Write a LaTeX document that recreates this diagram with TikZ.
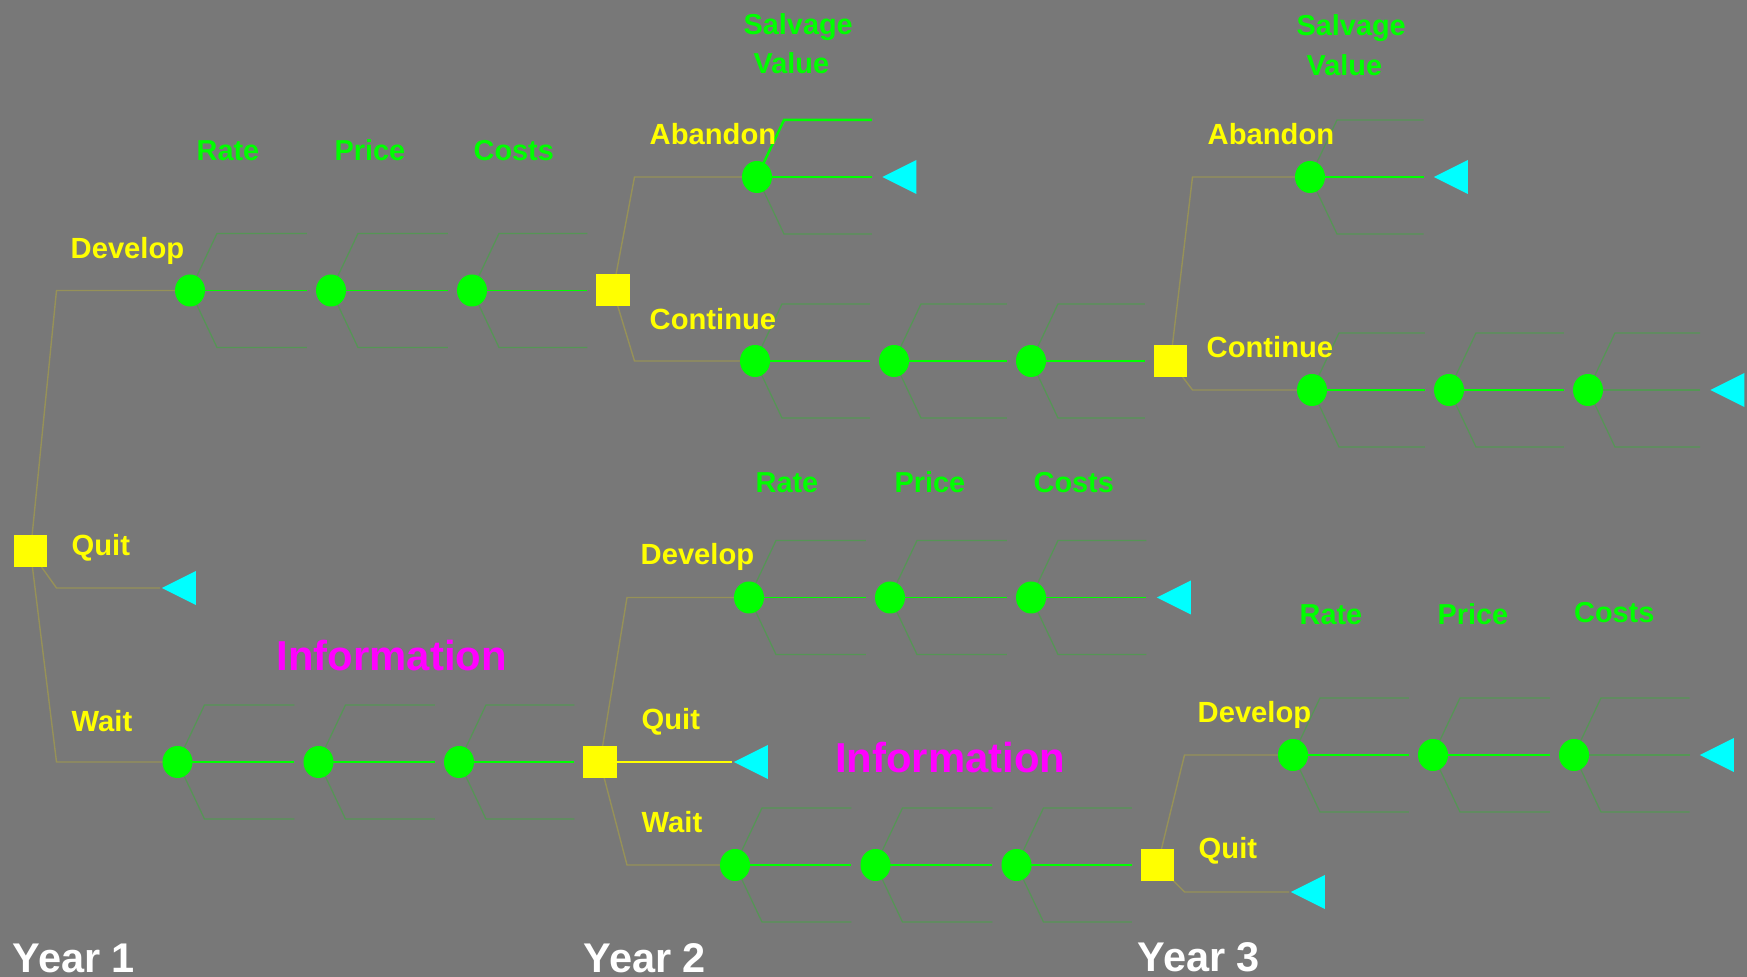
\documentclass[tikz,border=0pt]{standalone}
\usepackage{fontspec}
\setmainfont{Liberation Sans}
\usetikzlibrary{shapes.geometric,calc}
\definecolor{bgc}{RGB}{120,120,120}
\definecolor{declc}{RGB}{150,145,88}
\definecolor{fanc}{RGB}{85,150,85}
\definecolor{brgreen}{RGB}{0,255,0}
\definecolor{bryellow}{RGB}{255,255,0}
\definecolor{brcyan}{RGB}{0,255,255}
\definecolor{brmag}{RGB}{255,0,255}
\pgfdeclarelayer{bg}
\pgfdeclarelayer{edges}
\pgfsetlayers{bg,edges,main}
\tikzset{
  decbox/.style={rectangle,fill=bryellow,draw=none,minimum width=0.33cm,minimum height=0.32cm,inner sep=0pt},
  chance/.style={ellipse,fill=brgreen,draw=none,minimum width=0.30cm,minimum height=0.32cm,inner sep=0pt},
  endtri/.style={isosceles triangle,isosceles triangle stretches,shape border rotate=180,
    minimum width=0.34cm,minimum height=0.34cm,inner sep=0pt,fill=brcyan,draw=none,anchor=apex},
  decl/.style={draw=declc,line width=0.4pt},
  quitl/.style={draw=bryellow,line width=0.5pt},
  fanl/.style={draw=fanc,line width=0.35pt},
  midl/.style={draw=brgreen,line width=0.4pt},
  thickl/.style={draw=brgreen,line width=0.7pt},
  lab/.style={anchor=base west,inner sep=0pt,text=bryellow,font=\fontsize{8.3pt}{10pt}\selectfont\bfseries},
  glab/.style={anchor=base west,inner sep=0pt,text=brgreen,font=\fontsize{8.2pt}{10pt}\selectfont\bfseries},
  infolab/.style={anchor=base west,inner sep=0pt,text=brmag,font=\fontsize{11.9pt}{14pt}\selectfont\bfseries},
  yearlab/.style={anchor=base west,inner sep=0pt,text=white,font=\fontsize{11.8pt}{14pt}\selectfont\bfseries}
}
% #1 chance node, #2 anchor of next element, #3 middle style, #4 upper fan style
\newcommand\chfan[4]{%
  \coordinate (#1uk) at ($(#1.center)+(0.27cm,0.57cm)$);
  \coordinate (#1lk) at ($(#1.center)+(0.27cm,-0.57cm)$);
  \coordinate (#1ue) at ($(#2 |- #1uk)+(-0.085cm,0)$);
  \coordinate (#1le) at ($(#2 |- #1lk)+(-0.085cm,0)$);
  \draw[#4] (#1.center) -- (#1uk) -- (#1ue);
  \draw[fanl] (#1.center) -- (#1lk) -- (#1le);
  \draw[#3,shorten >=0.085cm] (#1.center) -- (#1.center -| #2);
}
\begin{document}
\begin{tikzpicture}[x=0.01cm,y=-0.01cm]
\begin{pgfonlayer}{bg}
\fill[bgc] (0,0) rectangle (1747,977);
\end{pgfonlayer}
\useasboundingbox (0,0) rectangle (1747,977);

% decision nodes
\node[decbox] (S0) at (30.5,551.5) {};
\node[decbox] (S1) at (613,290.5) {};
\node[decbox] (S2) at (600,762) {};
\node[decbox] (S3a) at (1170.5,361) {};
\node[decbox] (S3b) at (1157.5,865) {};

% chance nodes
\node[chance] (a1) at (190,290.5) {};
\node[chance] (a2) at (331,290.5) {};
\node[chance] (a3) at (472,290.5) {};
\node[chance] (b1) at (177.5,762) {};
\node[chance] (b2) at (318.5,762) {};
\node[chance] (b3) at (459,762) {};
\node[chance] (c1) at (757,177) {};
\node[chance] (d1) at (755,361) {};
\node[chance] (d2) at (894,361) {};
\node[chance] (d3) at (1031,361) {};
\node[chance] (e1) at (749,597.5) {};
\node[chance] (e2) at (890,597.5) {};
\node[chance] (e3) at (1031,597.5) {};
\node[chance] (f1) at (735,865) {};
\node[chance] (f2) at (875.5,865) {};
\node[chance] (f3) at (1016.5,865) {};
\node[chance] (g1) at (1310,177) {};
\node[chance] (h1) at (1312,390) {};
\node[chance] (h2) at (1449,390) {};
\node[chance] (h3) at (1588,390) {};
\node[chance] (i1) at (1293,755) {};
\node[chance] (i2) at (1433,755) {};
\node[chance] (i3) at (1574,755) {};

% terminal triangles
\node[endtri] (t1) at (160,588) {};
\node[endtri] (t2) at (732,762) {};
\node[endtri] (t3) at (1289,892) {};
\node[endtri] (tc) at (880.5,177) {};
\node[endtri] (te) at (1155,597.5) {};
\node[endtri] (tg) at (1432,177) {};
\node[endtri] (th) at (1708.5,390) {};
\node[endtri] (ti) at (1698,755) {};

% labels
\node[glab] (sv2a) at (743,35) {Salvage};
\node[glab] (sv2b) at (753,73.3) {Value};
\node[glab] (sv3a) at (1296,35.7) {Salvage};
\node[glab] (sv3b) at (1306,75.5) {Value};
\node[glab] (r1) at (196,161) {Rate};
\node[glab] (p1) at (334,161) {Price};
\node[glab] (k1) at (473,161) {Costs};
\node[lab] (ld1) at (70,259) {Develop};
\node[lab] (lab2) at (649,145) {Abandon};
\node[lab] (lco2) at (649,330) {Continue};
\node[lab] (lab3) at (1207,145) {Abandon};
\node[lab] (lco3) at (1206,358) {Continue};
\node[lab] (lq1) at (71,556) {Quit};
\node[glab] (r2) at (755,493) {Rate};
\node[glab] (p2) at (894,493) {Price};
\node[glab] (k2) at (1033,493) {Costs};
\node[lab] (ld2) at (640,565) {Develop};
\node[infolab] (inf1) at (276,671) {Information};
\node[lab] (lw1) at (71,732) {Wait};
\node[lab] (lq2) at (641,730) {Quit};
\node[infolab] (inf2) at (834.5,773) {Information};
\node[lab] (lw2) at (641,833) {Wait};
\node[glab] (r3) at (1299,625) {Rate};
\node[glab] (p3) at (1437,625) {Price};
\node[glab] (k3) at (1573.5,623) {Costs};
\node[lab] (ld3) at (1197,723) {Develop};
\node[lab] (lq3) at (1198,859) {Quit};
\node[yearlab] (y1) at (12,973) {Year 1};
\node[yearlab] (y2) at (583,973) {Year 2};
\node[yearlab] (y3) at (1137,972) {Year 3};

\begin{pgfonlayer}{edges}
% decision branches
\coordinate (s0x) at ($(S0.center)+(0.26cm,0)$);
\draw[decl] (S0.center) -- (s0x |- a1.center) -- (a1.center);
\draw[decl] (S0.center) -- (s0x |- t1.apex) -- (t1.apex);
\draw[decl] (S0.center) -- (s0x |- b1.center) -- (b1.center);
\coordinate (s1x) at ($(S1.center)+(0.215cm,0)$);
\draw[decl] (S1.center) -- (s1x |- c1.center) -- (c1.center);
\draw[decl] (S1.center) -- (s1x |- d1.center) -- (d1.center);
\coordinate (s2x) at ($(S2.center)+(0.27cm,0)$);
\draw[decl] (S2.center) -- (s2x |- e1.center) -- (e1.center);
\draw[quitl] (S2.center) -- (t2.apex);
\draw[decl] (S2.center) -- (s2x |- f1.center) -- (f1.center);
\coordinate (s3ax) at ($(S3a.center)+(0.22cm,0)$);
\draw[decl] (S3a.center) -- (s3ax |- g1.center) -- (g1.center);
\draw[decl] (S3a.center) -- (s3ax |- h1.center) -- (h1.center);
\coordinate (s3bx) at ($(S3b.center)+(0.27cm,0)$);
\draw[decl] (S3b.center) -- (s3bx |- i1.center) -- (i1.center);
\draw[decl] (S3b.center) -- (s3bx |- t3.apex) -- (t3.apex);

% chance fans
\chfan{a1}{a2.west}{midl}{fanl}
\chfan{a2}{a3.west}{midl}{fanl}
\chfan{a3}{S1.west}{midl}{fanl}
\chfan{b1}{b2.west}{midl}{fanl}
\chfan{b2}{b3.west}{midl}{fanl}
\chfan{b3}{S2.west}{midl}{fanl}
\chfan{c1}{tc.apex}{midl}{thickl}
\chfan{d1}{d2.west}{midl}{fanl}
\chfan{d2}{d3.west}{midl}{fanl}
\chfan{d3}{S3a.west}{midl}{fanl}
\chfan{e1}{e2.west}{midl}{fanl}
\chfan{e2}{e3.west}{midl}{fanl}
\chfan{e3}{te.apex}{midl}{fanl}
\chfan{f1}{f2.west}{midl}{fanl}
\chfan{f2}{f3.west}{midl}{fanl}
\chfan{f3}{S3b.west}{midl}{fanl}
\chfan{g1}{tg.apex}{midl}{fanl}
\chfan{h1}{h2.west}{midl}{fanl}
\chfan{h2}{h3.west}{midl}{fanl}
\chfan{h3}{th.apex}{fanl}{fanl}
\chfan{i1}{i2.west}{midl}{fanl}
\chfan{i2}{i3.west}{midl}{fanl}
\chfan{i3}{ti.apex}{fanl}{fanl}
\end{pgfonlayer}
\end{tikzpicture}
\end{document}
